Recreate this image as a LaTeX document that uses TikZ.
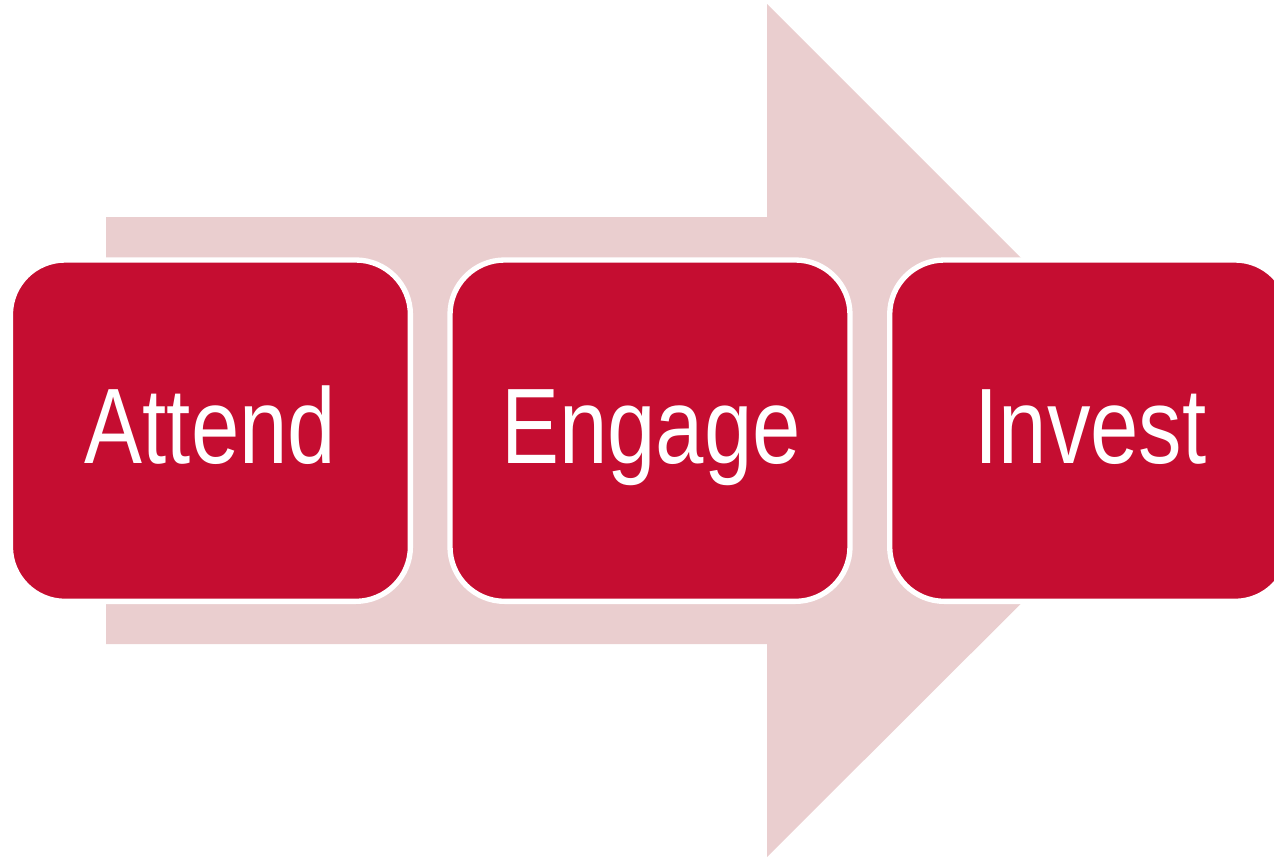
\documentclass[tikz,border=0pt]{standalone}
\usepackage{fontspec}
\setmainfont{Liberation Sans}
\newfontfamily\stagefont[FakeStretch=0.81]{Liberation Sans}
\definecolor{boxred}{HTML}{C50D31}
\definecolor{arrowpink}{HTML}{EACECF}
\tikzset{
  stage/.style={draw=white,line width=4pt,fill=boxred,rounded corners=41pt,minimum width=300pt,minimum height=256pt,inner sep=0pt,outer sep=0pt,anchor=north west},
  stagetext/.style={text=white,inner sep=0pt,anchor=base,font=\stagefont\fontsize{80.5}{80.5}\selectfont}
}
\begin{document}
\begin{tikzpicture}[x=0.75pt,y=-0.75pt]
\useasboundingbox (0,0) rectangle (1274,857);
\clip (0,0) rectangle (1274,857);
\fill[arrowpink] (106,217) -- (767,217) -- (767,4) -- (1194,431) -- (767,857) -- (767,644) -- (106,644) -- cycle;
\node[stage] (attend) at (10.4,260) {};
\node[stage] (engage) at (450,260) {};
\node[stage] (invest) at (889.7,260) {};
\node[stagetext] (t1) at (210.5,463) {Attend};
\node[stagetext] (t2) at (651,463) {Engage};
\node[stagetext] (t3) at (1090.5,463) {Invest};
\end{tikzpicture}
\end{document}
